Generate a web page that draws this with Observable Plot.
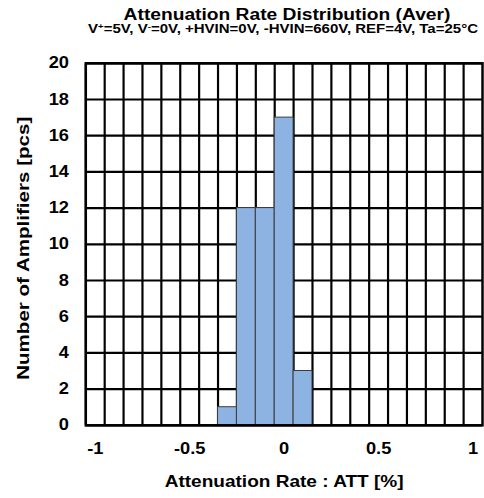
<!DOCTYPE html>
<html>
<head>
<meta charset="utf-8">
<script src="https://cdn.jsdelivr.net/npm/d3@7"></script>
<script src="https://cdn.jsdelivr.net/npm/@observablehq/plot@0.6"></script>
<style>
  html, body { margin: 0; padding: 0; background: #fff; overflow: hidden; width: 484px; height: 498px; }
  #wrap { position: relative; width: 484px; height: 498px; }
  .hdr { font-family: "Liberation Sans", Arial, sans-serif; font-weight: bold; color: #000; position: absolute; white-space: nowrap; line-height: 1; }
  #title { font-size: 16px; left: 287px; top: 7px; transform: translateX(-50%) scaleX(1.2); }
  #subtitle { font-size: 12.5px; left: 283px; top: 23px; transform: translateX(-50%) scaleX(1.2); }
  #subtitle sup { font-size: 8px; line-height: 0; vertical-align: 0.45em; }
  #chart { position: absolute; top: 40px; left: 0; }
</style>
</head>
<body>
<div id="wrap">
  <div id="title" class="hdr">Attenuation Rate Distribution (Aver)</div>
  <div id="subtitle" class="hdr">V<sup>+</sup>=5V, V<sup>-</sup>=0V, +HVIN=0V, -HVIN=660V, REF=4V, Ta=25°C</div>
  <div id="chart"></div>
</div>
<script>
// Data
const binCenters = [-0.3, -0.2, -0.1, 0.0, 0.1];
const counts = [1, 12, 12, 17, 3];
const binWidth = 0.1;
const xTicks = [-1, -0.5, 0, 0.5, 1];
const yTicks = [0, 2, 4, 6, 8, 10, 12, 14, 16, 18, 20];
const xLabel = "Attenuation Rate : ATT [%]";
const yLabel = "Number of Amplifiers [pcs]";

const bars = binCenters.map((c, i) => ({x1: c - binWidth / 2, x2: c + binWidth / 2, y: counts[i]}));
const xGrid = d3.range(-105, 100, 10).map(d => d / 100);

const chart = Plot.plot({
  width: 488,
  height: 458,
  marginLeft: 86,
  marginRight: 2,
  marginTop: 23,
  marginBottom: 70,
  style: {fontFamily: "'Liberation Sans', Arial, sans-serif", fontWeight: "bold", fontSize: "16px", color: "#000", background: "#fff", overflow: "visible"},
  x: {domain: [-1.05, 1.05]},
  y: {domain: [0, 20]},
  marks: [
    Plot.ruleX(xGrid, {stroke: "#000", strokeWidth: 2.2}),
    Plot.ruleY(yTicks, {stroke: "#000", strokeWidth: 2.2}),
    Plot.rectY(bars, {x1: "x1", x2: "x2", y1: 0, y2: "y", fill: "#8db3e2", stroke: "#3c3c3c", strokeWidth: 1}),
    Plot.frame({stroke: "#000", strokeWidth: 2.5}),
    Plot.axisX({ticks: xTicks, tickSize: 0, tickPadding: 18, label: null, fontSize: 16, fontWeight: "bold", tickFormat: d => String(d)}),
    Plot.axisY({ticks: yTicks, tickSize: 0, tickPadding: 17, label: null, fontSize: 16, fontWeight: "bold", tickFormat: d => String(d)}),
    Plot.text([xLabel], {frameAnchor: "bottom", textAnchor: "middle", lineAnchor: "middle", dy: 57, fontSize: 16, fontWeight: "bold", fill: "#000", className: "xlbl"}),
    Plot.text([yLabel], {frameAnchor: "left", textAnchor: "middle", lineAnchor: "middle", dx: -63, dy: 4, rotate: -90, fontSize: 17, fontWeight: "bold", fill: "#000", className: "ylbl"})
  ]
});

// Horizontally widen glyphs (the reference font renders wide)
function widen(sel, s) {
  sel.each(function() {
    const t = d3.select(this);
    const tr = t.attr("transform");
    if (tr) {
      t.attr("transform", tr + ` scale(${s},1)`);
    } else {
      const x = +t.attr("x") || 0, y = +t.attr("y") || 0;
      t.attr("x", null).attr("y", null).attr("transform", `translate(${x},${y}) scale(${s},1)`);
    }
  });
}
const svg = d3.select(chart);
widen(svg.selectAll('g[aria-label="x-axis tick label"] text, g[aria-label="y-axis tick label"] text'), 1.15);
widen(svg.selectAll('.xlbl text'), 1.2);
widen(svg.selectAll('.ylbl text'), 1.22);

document.getElementById("chart").appendChild(chart);
</script>
</body>
</html>
